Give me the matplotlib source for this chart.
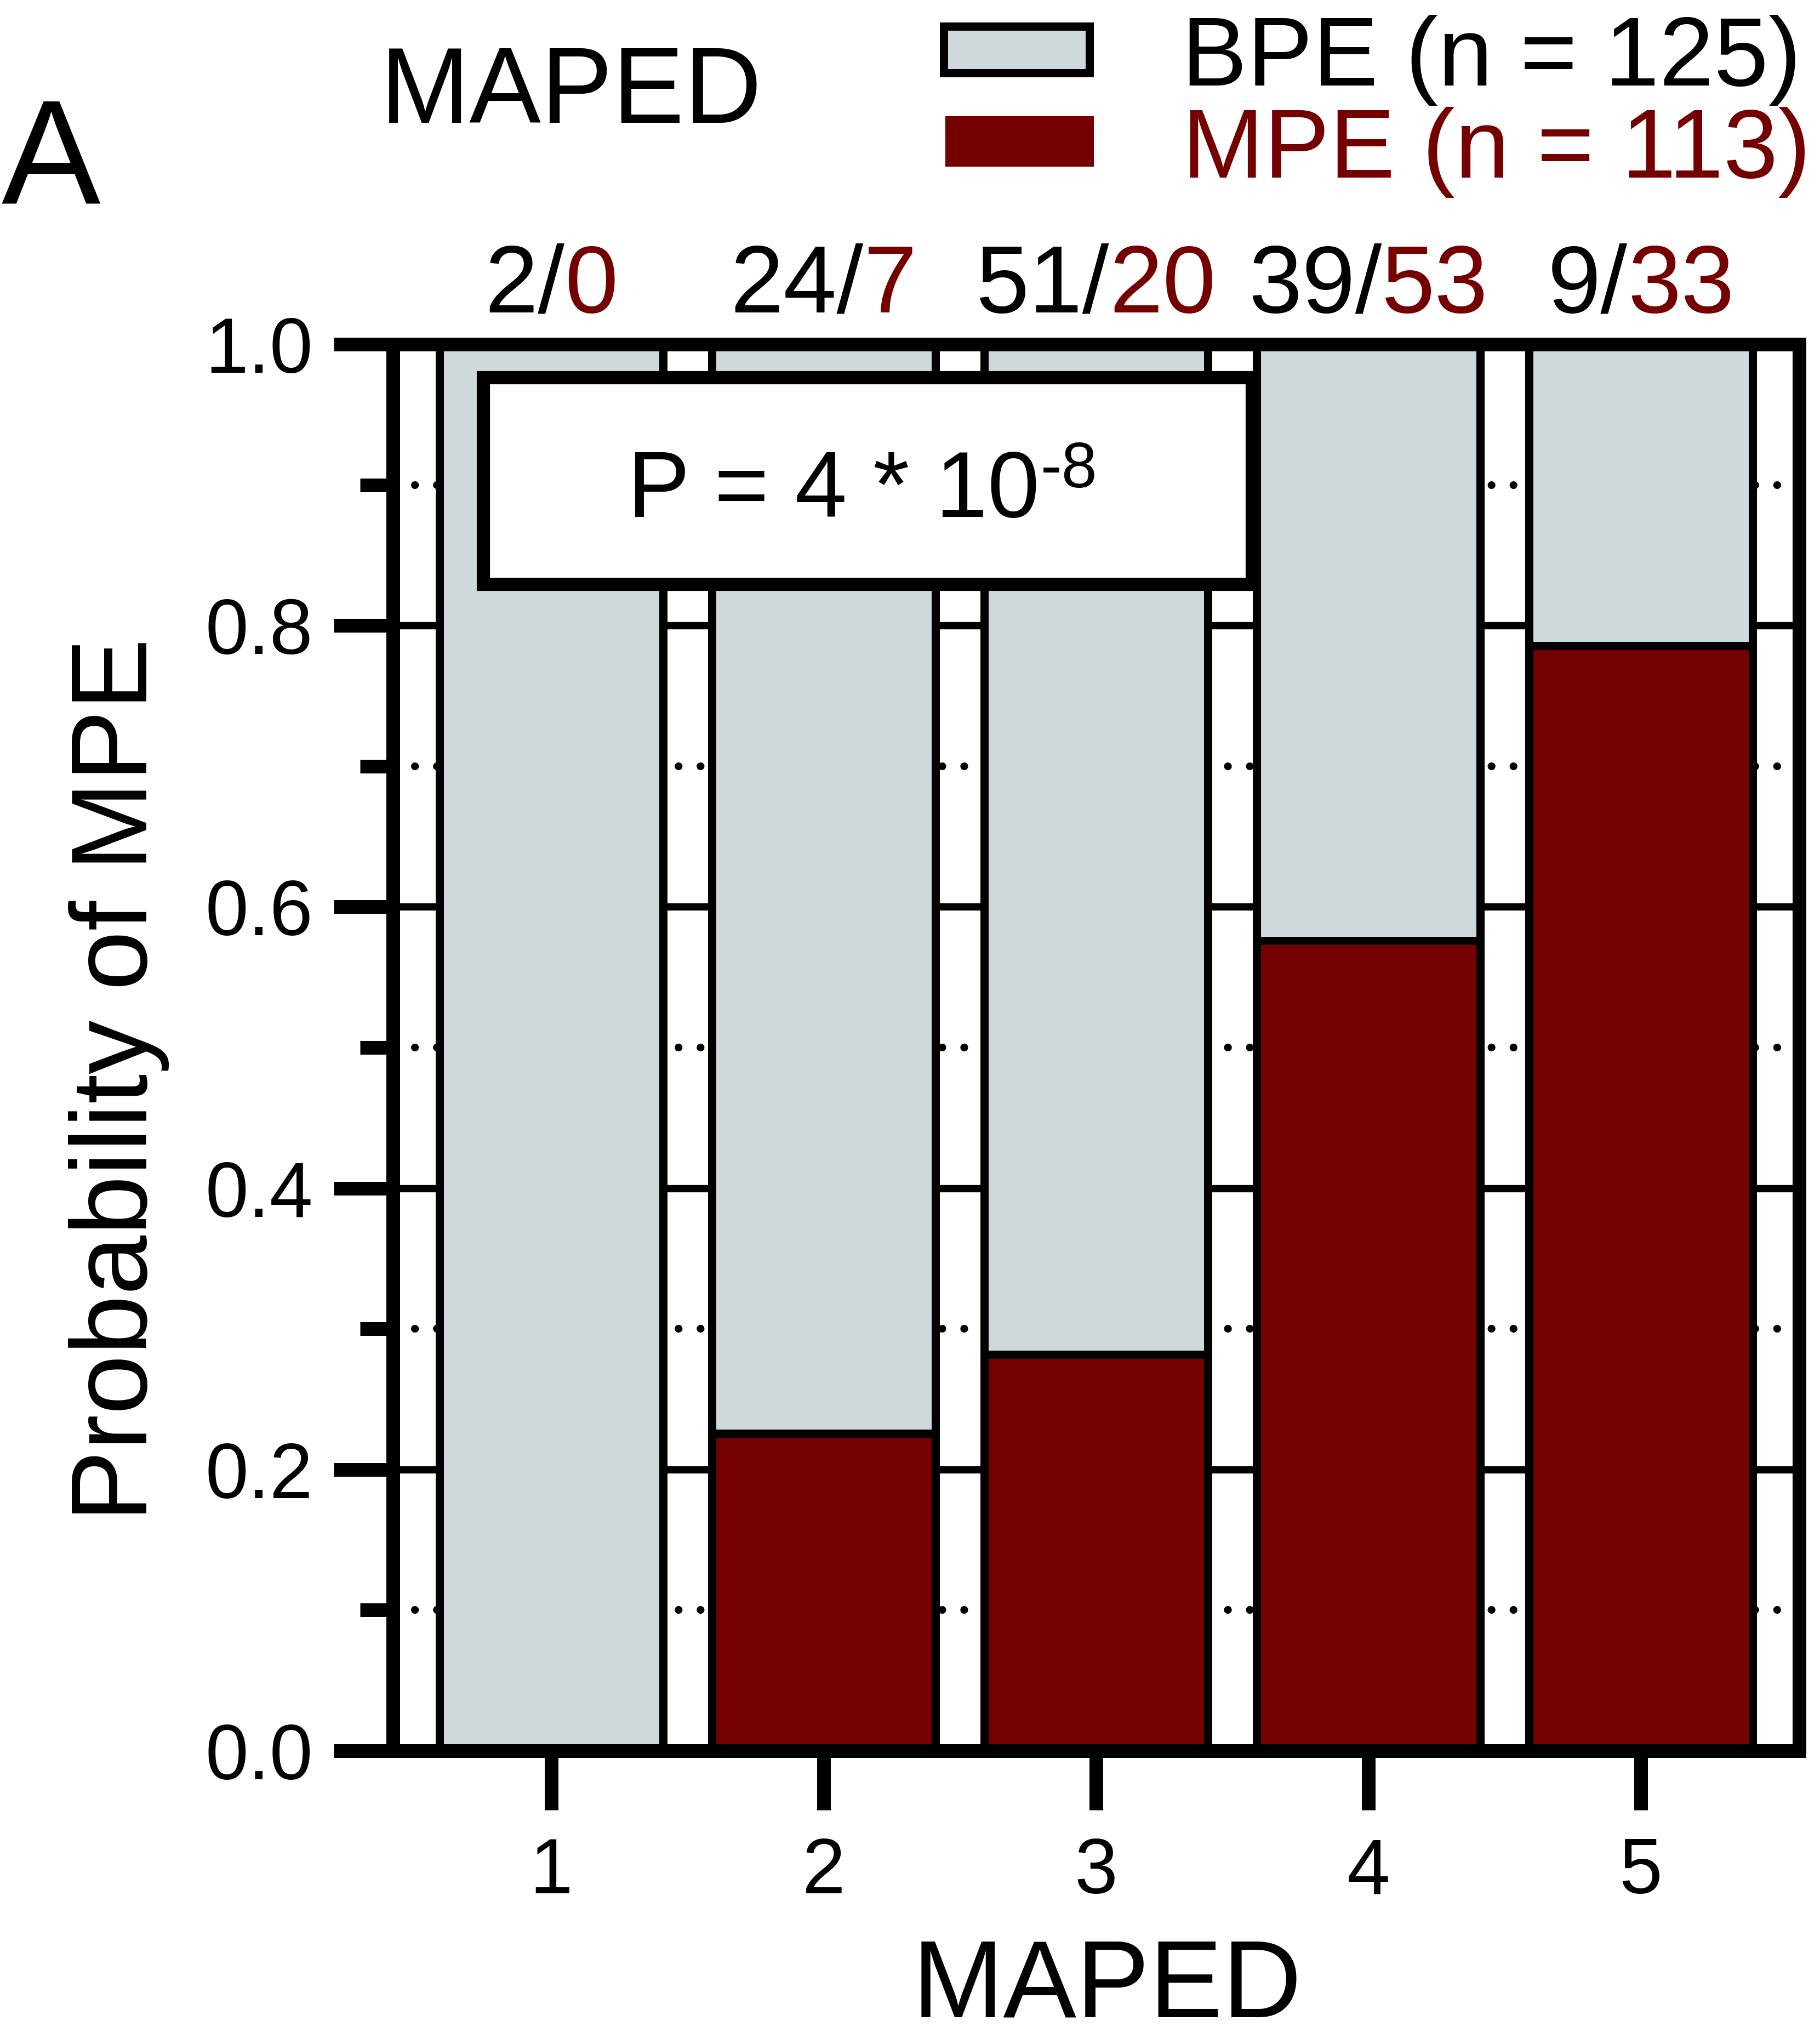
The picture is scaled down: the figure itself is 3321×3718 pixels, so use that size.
import numpy as np
import matplotlib
matplotlib.use("Agg")
import matplotlib.pyplot as plt
from matplotlib.patches import Rectangle
from matplotlib.offsetbox import TextArea, HPacker, AnnotationBbox
from matplotlib.ticker import MultipleLocator, FormatStrFormatter

plt.rcParams["font.family"] = ["Liberation Sans", "DejaVu Sans"]

# MAPED score groups and patient counts per group
maped_scores = [1, 2, 3, 4, 5]
bpe_counts = [2, 24, 51, 39, 9]
mpe_counts = [0, 7, 20, 53, 33]
p_value_text = "P = 4 * 10"
p_value_exp = "-8"

BPE_COLOR = "#CDD9DA"
MPE_COLOR = "#750000"

bpe = np.array(bpe_counts, dtype=float)
mpe = np.array(mpe_counts, dtype=float)
totals = bpe + mpe
mpe_frac = mpe / totals
bpe_frac = bpe / totals

fig = plt.figure(figsize=(3321 / 300, 3718 / 300), dpi=300)
ax = fig.add_axes([0.2159, 0.14093, 0.77266, 0.69016])

bar_w = 0.82
ax.bar(maped_scores, mpe_frac, width=bar_w, color=MPE_COLOR,
       edgecolor="black", linewidth=3.6, zorder=2)
ax.bar(maped_scores, bpe_frac, bottom=mpe_frac, width=bar_w, color=BPE_COLOR,
       edgecolor="black", linewidth=3.6, zorder=2)

ax.set_xlim(0.419, 5.581)
ax.set_ylim(0, 1)
ax.set_xticks(maped_scores)
ax.set_xticklabels([str(s) for s in maped_scores])
ax.yaxis.set_major_locator(MultipleLocator(0.2))
ax.yaxis.set_minor_locator(MultipleLocator(0.1))
ax.yaxis.set_major_formatter(FormatStrFormatter("%.1f"))

# gridlines sit behind the bars: solid at major ticks, dotted at minor ticks
ax.set_axisbelow(True)
ax.grid(True, axis="y", which="major", color="black", linewidth=3.2, linestyle="-")
ax.grid(True, axis="y", which="minor", color="black", linewidth=3.4,
        linestyle=(0, (0.01, 2.82)), dash_capstyle="round")
ax.grid(False, axis="x", which="both")

ax.tick_params(axis="y", which="major", direction="out", length=26, width=6,
               labelsize=34, pad=9)
ax.tick_params(axis="y", which="minor", direction="out", length=14.5, width=6)
ax.tick_params(axis="x", which="major", direction="out", length=26, width=6,
               labelsize=34, pad=11.5)
ax.tick_params(axis="x", which="minor", bottom=False)

for sp in ax.spines.values():
    sp.set_linewidth(6)
    sp.set_capstyle("projecting")
    sp.set_zorder(6)

ax.set_ylabel("Probability of MPE", fontsize=47)
ax.yaxis.set_label_coords(-0.159, 0.477)
ax.set_xlabel("MAPED", fontsize=48)
ax.xaxis.set_label_coords(0.508, -0.1325)

# counts above each bar: BPE in black, MPE in dark red
for xi, b, m in zip(maped_scores, bpe_counts, mpe_counts):
    pack = HPacker(children=[
        TextArea(f"{b}/", textprops=dict(color="black", fontsize=42)),
        TextArea(f"{m}", textprops=dict(color=MPE_COLOR, fontsize=42)),
    ], align="baseline", pad=0, sep=0)
    ab = AnnotationBbox(pack, (xi, 1.0086), xycoords=("data", "axes fraction"),
                        box_alignment=(0.5, 0), frameon=False, pad=0,
                        annotation_clip=False)
    ax.add_artist(ab)

# P-value box
ax.add_patch(Rectangle((0.751, 0.8293), 3.574 - 0.751, 0.9762 - 0.8293,
                       facecolor="white", edgecolor="black", linewidth=5.8,
                       zorder=4))
ptext = ax.text(1.280, 0.8772, p_value_text, fontsize=41, ha="left",
                va="baseline", zorder=5)
ax.annotate(p_value_exp, xy=(1, 0), xycoords=ptext, xytext=(0.5, 21.4),
            textcoords="offset points", fontsize=28, ha="left", va="baseline",
            zorder=5)

# legend
fig.add_artist(Rectangle((0.5185, 0.96423), 0.0801, 0.02286,
                         transform=fig.transFigure, facecolor=BPE_COLOR,
                         edgecolor="black", linewidth=3.6))
fig.add_artist(Rectangle((0.5194, 0.91824), 0.0816, 0.02474,
                         transform=fig.transFigure, facecolor=MPE_COLOR,
                         edgecolor="none"))
fig.text(0.6492, 0.9580, f"BPE (n = {sum(bpe_counts)})", fontsize=43,
         color="black", va="baseline")
fig.text(0.6495, 0.9129, f"MPE (n = {sum(mpe_counts)})", fontsize=43,
         color=MPE_COLOR, va="baseline")

fig.text(0.209, 0.9398, "MAPED", fontsize=47, va="baseline")
fig.text(0.0006, 0.9002, "A", fontsize=65, va="baseline")

fig.savefig("out.png", dpi=300)
